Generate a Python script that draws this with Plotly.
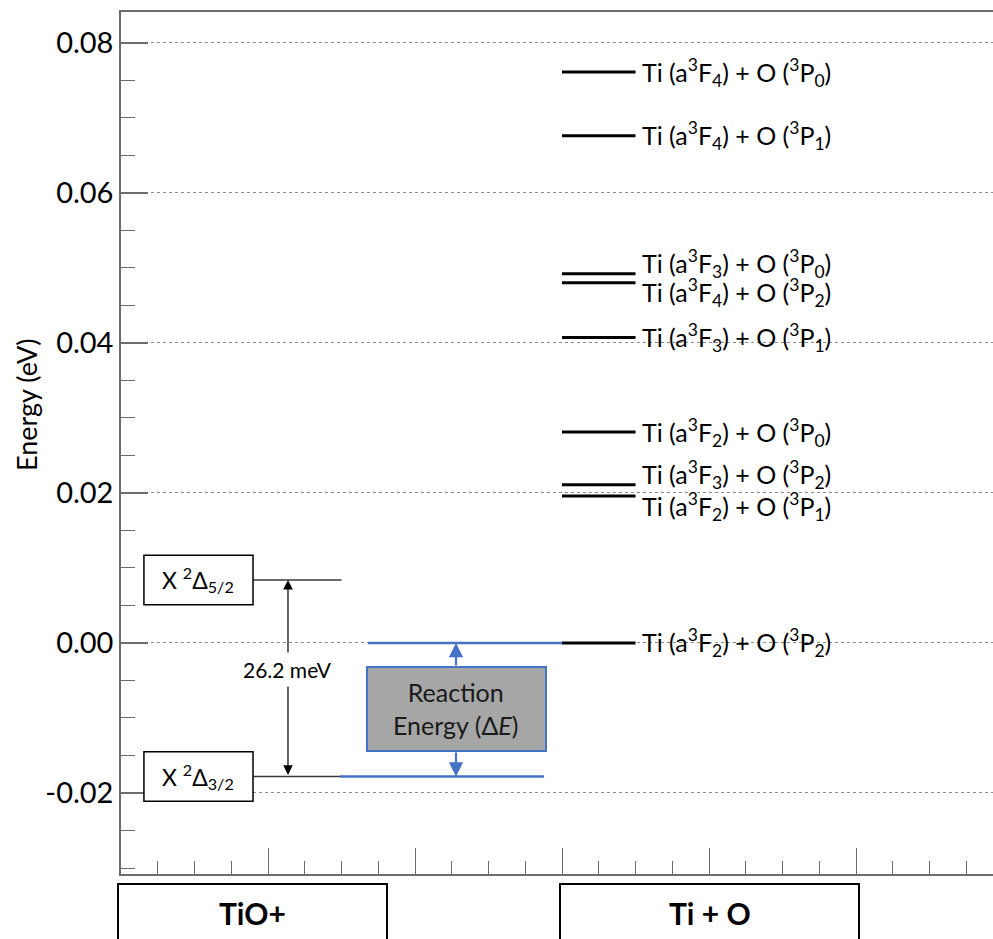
import plotly.graph_objects as go

# ---- data -------------------------------------------------------------
# TiO+ ground-state spin-orbit components (eV)
tio_states = ["X <sup>2</sup>Δ<sub>5/2</sub>", "X <sup>2</sup>Δ<sub>3/2</sub>"]
tio_energy = [0.0084, -0.0178]

# Ti + O asymptotic fine-structure combinations (eV)
tio_asym_labels = [
    "Ti (a<sup>3</sup>F<sub>4</sub>) + O (<sup>3</sup>P<sub>0</sub>)",
    "Ti (a<sup>3</sup>F<sub>4</sub>) + O (<sup>3</sup>P<sub>1</sub>)",
    "Ti (a<sup>3</sup>F<sub>3</sub>) + O (<sup>3</sup>P<sub>0</sub>)",
    "Ti (a<sup>3</sup>F<sub>4</sub>) + O (<sup>3</sup>P<sub>2</sub>)",
    "Ti (a<sup>3</sup>F<sub>3</sub>) + O (<sup>3</sup>P<sub>1</sub>)",
    "Ti (a<sup>3</sup>F<sub>2</sub>) + O (<sup>3</sup>P<sub>0</sub>)",
    "Ti (a<sup>3</sup>F<sub>3</sub>) + O (<sup>3</sup>P<sub>2</sub>)",
    "Ti (a<sup>3</sup>F<sub>2</sub>) + O (<sup>3</sup>P<sub>1</sub>)",
    "Ti (a<sup>3</sup>F<sub>2</sub>) + O (<sup>3</sup>P<sub>2</sub>)",
]
asym_energy = [0.0761, 0.0676, 0.0492, 0.0480, 0.0407, 0.0281, 0.0211, 0.0196, 0.0]

splitting_label = "26.2 meV"
group_labels = ["TiO+", "Ti + O"]

y_ticks = [-0.02, 0.00, 0.02, 0.04, 0.06, 0.08]
y_ticktext = ["-0.02", "0.00", "0.02", "0.04", "0.06", "0.08"]

# ---- styling ----------------------------------------------------------
FONT = "Lato, 'Noto Sans', sans-serif"
BLUE = "#4472C4"
AXIS_GREY = "#6d6d6d"

W, H = 993, 939
ML, MR, MT, MB = 121, 0, 12, 65
PW, PH = W - ML - MR, H - MT - MB


def px_x(p):
    return (p - ML) / PW


def px_y(p):
    return (H - MB - p) / PH


fig = go.Figure()

# TiO+ levels
tio_x = [0.898, 1.50]
for e in tio_energy:
    fig.add_trace(go.Scatter(x=tio_x, y=[e, e], mode="lines",
                             line=dict(color="#3a3a3a", width=1.5),
                             hoverinfo="skip", showlegend=False))

# blue reference lines spanning the reaction energy
fig.add_trace(go.Scatter(x=[1.68, 3.0], y=[asym_energy[-1]] * 2, mode="lines",
                         line=dict(color=BLUE, width=2.5),
                         hoverinfo="skip", showlegend=False))
fig.add_trace(go.Scatter(x=[1.49, 2.878], y=[tio_energy[1]] * 2, mode="lines",
                         line=dict(color=BLUE, width=2.5),
                         hoverinfo="skip", showlegend=False))

# Ti + O levels
asym_x = [3.0, 3.5]
for e in asym_energy:
    fig.add_trace(go.Scatter(x=asym_x, y=[e, e], mode="lines",
                             line=dict(color="black", width=3),
                             hoverinfo="skip", showlegend=False))

annotations = []
shapes = []

# level labels on the right; nearly-degenerate pairs are nudged apart
nudge = {2: 0.0014, 3: -0.0013, 6: 0.0014, 7: -0.0014}
for i, (lab, e) in enumerate(zip(tio_asym_labels, asym_energy)):
    annotations.append(dict(x=3.53, y=e + nudge.get(i, 0.0), xref="x", yref="y",
                            text=lab, showarrow=False, xanchor="left",
                            yanchor="middle",
                            font=dict(family=FONT, size=25, color="black")))

# TiO+ state boxes
for lab, e in zip(tio_states, tio_energy):
    shapes.append(dict(type="rect", xref="x", yref="y",
                       x0=0.156, x1=0.898, y0=e - 0.0033, y1=e + 0.0033,
                       line=dict(color="black", width=1.5), fillcolor="white"))
    annotations.append(dict(x=0.527, y=e, xref="x", yref="y", text=lab,
                            showarrow=False, xanchor="center", yanchor="middle",
                            font=dict(family=FONT, size=23, color="black")))

# spin-orbit splitting double arrow
x_split = 1.136
annotations.append(dict(x=x_split, y=tio_energy[0], ax=x_split, ay=tio_energy[1],
                        xref="x", yref="y", axref="x", ayref="y", text="",
                        showarrow=True, arrowhead=2, startarrowhead=2,
                        arrowside="end+start", arrowsize=1.6, arrowwidth=1.2,
                        arrowcolor="black", standoff=0, startstandoff=0))
annotations.append(dict(x=x_split, y=-0.0036, xref="x", yref="y",
                        text=splitting_label, showarrow=False,
                        bgcolor="white", borderpad=4,
                        font=dict(family=FONT, size=21, color="black")))

# reaction energy box with arrows to the two reference levels
box_y0, box_y1 = -0.0144, -0.0032
x_re = 2.279
shapes.append(dict(type="rect", xref="x", yref="y", x0=1.673, x1=2.891,
                   y0=box_y0, y1=box_y1, fillcolor="#a6a6a6",
                   line=dict(color=BLUE, width=2)))
annotations.append(dict(x=x_re, y=asym_energy[-1], ax=x_re, ay=box_y1,
                        xref="x", yref="y", axref="x", ayref="y", text="",
                        showarrow=True, arrowhead=2, arrowsize=1.3,
                        arrowwidth=2.2, arrowcolor=BLUE, standoff=0))
annotations.append(dict(x=x_re, y=tio_energy[1], ax=x_re, ay=box_y0,
                        xref="x", yref="y", axref="x", ayref="y", text="",
                        showarrow=True, arrowhead=2, arrowsize=1.3,
                        arrowwidth=2.2, arrowcolor=BLUE, standoff=0))
annotations.append(dict(x=x_re, y=(box_y0 + box_y1) / 2, xref="x", yref="y",
                        text="Reaction<br>Energy (Δ<i>E</i>)", showarrow=False,
                        align="center",
                        font=dict(family=FONT, size=25, color="#1a1a1a")))

# group boxes beneath the axis
for lab, (p0, p1) in zip(group_labels, [(118, 387), (560, 859)]):
    shapes.append(dict(type="rect", xref="paper", yref="paper",
                       x0=px_x(p0), x1=px_x(p1), y0=px_y(884), y1=px_y(960),
                       line=dict(color="black", width=2), fillcolor="white"))
    annotations.append(dict(x=px_x((p0 + p1) / 2), y=px_y(913), xref="paper",
                            yref="paper", text=f"<b>{lab}</b>", showarrow=False,
                            xanchor="center", yanchor="middle",
                            font=dict(family=FONT, size=30, color="black")))

# y-axis title
annotations.append(dict(x=px_x(26), y=px_y(405), xref="paper", yref="paper",
                        text="Energy (eV)", textangle=-90, showarrow=False,
                        xanchor="center", yanchor="middle",
                        font=dict(family=FONT, size=27, color="black")))

fig.update_layout(
    width=W, height=H, autosize=False,
    margin=dict(l=ML, r=MR, t=MT, b=MB),
    paper_bgcolor="white", plot_bgcolor="white",
    showlegend=False,
    shapes=shapes, annotations=annotations,
    font=dict(family=FONT, color="black"),
)

fig.update_xaxes(
    range=[0, PW / 147.0], showgrid=False, zeroline=False,
    showline=True, linecolor=AXIS_GREY, linewidth=1.5, mirror=True,
    ticks="inside", dtick=1, tick0=0, ticklen=26, tickwidth=1.2,
    tickcolor=AXIS_GREY, showticklabels=False,
    minor=dict(ticks="inside", dtick=0.25, ticklen=13, tickwidth=1.2,
               tickcolor=AXIS_GREY, showgrid=False),
)

fig.update_yaxes(
    range=[-0.0308, 0.0841], zeroline=False,
    showline=True, linecolor=AXIS_GREY, linewidth=1.5,
    tickmode="array", tickvals=y_ticks, ticktext=y_ticktext,
    ticks="inside", ticklen=27, tickwidth=1.5, tickcolor=AXIS_GREY,
    tickfont=dict(family=FONT, size=29, color="black"),
    showgrid=True, gridcolor="#8c8c8c", griddash="dot", gridwidth=1,
    minor=dict(ticks="inside", dtick=0.005, tick0=0, ticklen=14,
               tickwidth=1.2, tickcolor=AXIS_GREY, showgrid=False),
)

fig.write_html("out.html")
